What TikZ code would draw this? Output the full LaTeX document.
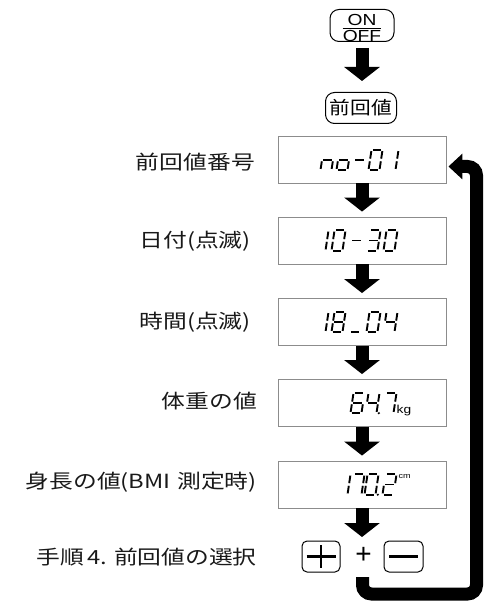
\documentclass[tikz,border=0pt]{standalone}
\usepackage{fontspec}
\setmainfont{Liberation Sans}
\newfontfamily\jp[FakeStretch=1.22]{Noto Sans CJK JP}
\newfontfamily\jpkey[FakeStretch=1.15]{Noto Sans CJK JP}
\newfontfamily\lat[FakeStretch=1.2]{Liberation Sans}
\usetikzlibrary{arrows.meta}
\def\sW{11}\def\sH{10.2}\def\sG{1.3}
\newcommand\sga{\draw[segline] (\sG,-\sH) -- (\sW-\sG,-\sH);}
\newcommand\sgb{\draw[segline] (\sW,-\sH+\sG) -- (\sW,-\sG);}
\newcommand\sgc{\draw[segline] (\sW,\sG) -- (\sW,\sH-\sG);}
\newcommand\sgd{\draw[segline] (\sG,\sH) -- (\sW-\sG,\sH);}
\newcommand\sge{\draw[segline] (0,\sG) -- (0,\sH-\sG);}
\newcommand\sgf{\draw[segline] (0,-\sH+\sG) -- (0,-\sG);}
\newcommand\sgg{\draw[segline] (\sG,0) -- (\sW-\sG,0);}
\newcommand\sgp{\fill (\sW+2.4,\sH) circle (1.2pt);}
\newcommand\lcd[3]{\begin{scope}[shift={(#1,#2)},xslant=0.15]\foreach \s in {#3}{\csname sg\s\endcsname}\end{scope}}
\begin{document}
\begin{tikzpicture}[x=1pt,y=-1pt,
  lcdbox/.style={draw=black!45, line width=0.9pt, minimum width=168pt, minimum height=47pt, inner sep=0pt},
  lbl/.style={anchor=east, font=\jp\fontsize{19.5}{19.5}\selectfont, inner sep=0pt, text=black!90},
  blockarrow/.style={line width=13pt, -{Triangle[length=14pt,width=35pt]}},
  loopline/.style={line width=13pt, rounded corners=9pt, -{Triangle[length=14pt,width=25pt]}},
  pill/.style={draw, line width=1pt, rounded corners=9pt, inner sep=0pt},
  key/.style={draw, line width=1pt, rounded corners=5pt, minimum width=38pt, minimum height=31pt, inner sep=0pt},
  segline/.style={line width=1.9pt, line cap=butt},
  keybar/.style={line width=2.2pt}]
\useasboundingbox (0,0) rectangle (490,601);
% top buttons
\node[pill, minimum width=64pt, minimum height=32pt] (onoff) at (362,25.5) {};
\node[font=\lat\fontsize{16}{16}\selectfont, inner sep=0pt] (on) at (362,19.5) {ON};
\node[font=\lat\fontsize{16}{16}\selectfont, inner sep=0pt] (off) at (362,36) {OFF};
\draw[line width=1pt] ([yshift=1.8pt]off.north west) -- ([yshift=1.8pt]off.north east);
\node[pill, minimum width=71pt, minimum height=31pt, font=\jpkey\fontsize{18}{18}\selectfont] (prev) at (361,108) {前回値};
\draw[blockarrow, shorten <=6pt, shorten >=11pt] (onoff.south) -- (prev.north -| onoff.south);
% boxes
\node[lcdbox] (box1) at (362,159.5) {};
\node[lcdbox] (box2) at (362,240.5) {};
\node[lcdbox] (box3) at (362,322) {};
\node[lcdbox] (box4) at (362,403) {};
\node[lcdbox] (box5) at (362,484.5) {};
\draw[blockarrow, shorten >=5pt] (box1.south) -- (box2.north);
\draw[blockarrow, shorten >=5pt] (box2.south) -- (box3.north);
\draw[blockarrow, shorten >=5pt] (box3.south) -- (box4.north);
\draw[blockarrow, shorten >=5pt] (box4.south) -- (box5.north);
\coordinate (keyrow) at (362,541);
\draw[blockarrow, shorten >=4pt] (box5.south) -- (keyrow);
% labels
\node[lbl] (l1) at (255,162) {前回値番号};
\node[lbl] (l2) at (251,241) {日付(点滅)};
\node[lbl] (l3) at (251,322) {時間(点滅)};
\node[lbl] (l4) at (257,401) {体重の値};
\node[lbl] (l5) at (257,482) {身長の値(BMI\,\,測定時)};
\node[lbl] (l6) at (257,557) {手順\,4.\,\,前回値の選択};
% display 1: no-01
\lcd{322}{160}{c,e,g}
\lcd{338}{160}{c,d,e,g}
\lcd{354}{160}{g}
\lcd{370}{160}{a,b,c,d,e,f}
\lcd{386}{160}{b,c}
% display 2: 10-30
\lcd{316}{240.5}{b,c}
\lcd{333}{240.5}{a,b,c,d,e,f}
\lcd{351}{240.5}{g}
\lcd{368}{240.5}{a,b,c,d,g}
\lcd{385}{240.5}{a,b,c,d,e,f}
% display 3: 18_04
\lcd{316}{322}{b,c}
\lcd{333}{322}{a,b,c,d,e,f,g}
\lcd{351}{322}{d}
\lcd{368}{322}{a,b,c,d,e,f}
\lcd{385}{322}{b,c,f,g}
% display 4: 64.7kg
\lcd{352}{403}{a,c,d,e,f,g}
\lcd{367}{403}{b,c,f,g,p}
\lcd{384}{403}{a,b,c}
\node[font=\lat\fontsize{11.5}{11.5}\selectfont, anchor=base west, inner sep=0pt] (kg) at (396.5,413) {kg};
% display 5: 170.2cm
\lcd{338}{484.5}{b,c}
\lcd{352}{484.5}{a,b,c}
\lcd{366}{484.5}{a,b,c,d,e,f,p}
\lcd{384}{484.5}{a,b,d,e,g}
\node[font=\lat\fontsize{7.5}{7.5}\selectfont, anchor=north west, inner sep=0pt] (cm) at (398.5,474) {cm};
% keys
\node[key] (pk) at (321,556.5) {};
\node[key, minimum width=39pt] (mk) at (403.5,556.5) {};
\draw[keybar] ([xshift=-14.5pt]pk.center) -- ([xshift=14.5pt]pk.center);
\draw[keybar] ([yshift=11.5pt]pk.center) -- ([yshift=-11.5pt]pk.center);
\draw[keybar] ([xshift=-14.5pt]mk.center) -- ([xshift=14.5pt]mk.center);
\node[font=\fontsize{28}{28}\selectfont, inner sep=0pt] (plus) at (363.5,555) {+};
% loop
\coordinate (loopstart) at (362.5,577);
\draw[loopline] (loopstart) -- (362.5,594) -- (476.5,594) -- (476.5,166.5) -- ([xshift=2pt,yshift=-7pt]box1.east);
\end{tikzpicture}
\end{document}
